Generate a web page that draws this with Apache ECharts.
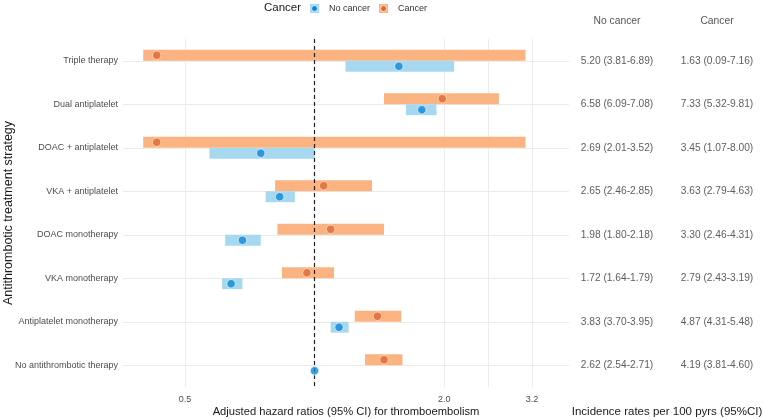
<!DOCTYPE html>
<html>
<head>
<meta charset="utf-8">
<script src="https://cdn.jsdelivr.net/npm/echarts@6/dist/echarts.min.js"></script>
<style>
  html, body { margin: 0; padding: 0; background: #fff; }
  #chart { width: 763px; height: 419px; }
</style>
</head>
<body>
<div id="chart"></div>
<script>
// categories, top to bottom
const categories = [
  'Triple therapy',
  'Dual antiplatelet',
  'DOAC + antiplatelet',
  'VKA + antiplatelet',
  'DOAC monotherapy',
  'VKA monotherapy',
  'Antiplatelet monotherapy',
  'No antithrombotic therapy'
];

// adjusted hazard ratios
const noCancerHR = [1.57, 1.775, 0.75, 0.83, 0.68, 0.64, 1.14, 1.0];
const noCancerLo = [1.18, 1.63, 0.57, 0.77, 0.62, 0.61, 1.09, 1.0];
const noCancerHi = [2.11, 1.92, 1.0, 0.90, 0.75, 0.68, 1.20, 1.0];
const cancerHR = [0.43, 1.98, 0.43, 1.05, 1.09, 0.96, 1.40, 1.45];
const cancerLo = [0.40, 1.45, 0.40, 0.81, 0.82, 0.84, 1.24, 1.31];
const cancerHi = [3.09, 2.68, 3.09, 1.36, 1.45, 1.11, 1.59, 1.60];

// incidence rates per 100 pyrs
const noCancerIR = ['5.20 (3.81-6.89)', '6.58 (6.09-7.08)', '2.69 (2.01-3.52)', '2.65 (2.46-2.85)',
  '1.98 (1.80-2.18)', '1.72 (1.64-1.79)', '3.83 (3.70-3.95)', '2.62 (2.54-2.71)'];
const cancerIR = ['1.63 (0.09-7.16)', '7.33 (5.32-9.81)', '3.45 (1.07-8.00)', '3.63 (2.79-4.63)',
  '3.30 (2.46-4.31)', '2.79 (2.43-3.19)', '4.87 (4.31-5.48)', '4.19 (3.81-4.60)'];

const xTickLabels = [0.5, 2.0, 3.2];
const xGridValues = [0.5, 1, 2, 2.53, 3.2];
const tableColumns = ['No cancer', 'Cancer'];

const FONT = '"Liberation Sans", Arial, sans-serif';
const BLUE = '#1088D8', BLUE_LIGHT = '#A6D8F0';
const ORANGE = '#E06830', ORANGE_LIGHT = '#FBB382';

function keyIcon(light, dark) {
  const svg = "<svg xmlns='http://www.w3.org/2000/svg' width='18' height='18'>" +
    "<rect width='18' height='18' fill='" + light + "'/>" +
    "<circle cx='9' cy='9' r='6' fill='" + dark + "' stroke='#fff' stroke-width='1.5'/></svg>";
  return 'image://data:image/svg+xml;charset=utf-8,' + encodeURIComponent(svg);
}

function rangeRenderer(shift) {
  return function (params, api) {
    const a = api.coord([api.value(0), api.value(2)]);
    const b = api.coord([api.value(1), api.value(2)]);
    const band = api.size([0, 1])[1];
    const h = band * 0.25;
    return {
      type: 'rect',
      shape: { x: a[0], y: a[1] + shift * band - h / 2, width: b[0] - a[0], height: h },
      style: { fill: api.visual('color') }
    };
  };
}

const chart = echarts.init(document.getElementById('chart'));

const option = {
  animation: false,
  textStyle: { fontFamily: FONT },
  title: {
    text: 'Cancer',
    left: 264,
    top: 2,
    padding: 0,
    textStyle: { fontSize: 11.5, fontWeight: 'normal', color: '#1a1a1a', fontFamily: FONT }
  },
  legend: {
    left: 310,
    top: 4,
    padding: 0,
    itemWidth: 9,
    itemHeight: 9,
    itemGap: 9,
    textStyle: { fontSize: 9, color: '#333', padding: [0, 0, 0, 5] },
    data: [
      { name: 'No cancer', icon: keyIcon(BLUE_LIGHT, BLUE) },
      { name: 'Cancer', icon: keyIcon(ORANGE_LIGHT, ORANGE) }
    ]
  },
  grid: [
    { left: 123, right: 194, top: 39, bottom: 32, outerBoundsMode: 'none', containLabel: false },
    { left: 567, right: -4, top: 39, bottom: 32, outerBoundsMode: 'none', containLabel: false }
  ],
  xAxis: [
    {
      type: 'log',
      gridIndex: 0,
      min: 0.359,
      max: 3.9,
      axisLine: { show: false },
      axisTick: { show: false, customValues: xGridValues },
      axisLabel: {
        customValues: xTickLabels,
        formatter: v => Number(v).toFixed(1),
        fontSize: 9,
        color: '#4d4d4d',
        margin: 8
      },
      splitLine: { show: true, lineStyle: { color: '#ebebeb', width: 1 } },
      name: 'Adjusted hazard ratios (95% CI) for thromboembolism',
      nameLocation: 'middle',
      nameGap: 19,
      nameMoveOverlap: false,
      nameTextStyle: { fontSize: 11.2, color: '#1a1a1a' }
    },
    {
      type: 'category',
      gridIndex: 1,
      position: 'top',
      data: tableColumns,
      axisLine: { show: false },
      axisTick: { show: false },
      axisLabel: { fontSize: 10.3, color: '#555', margin: 13 }
    },
    {
      type: 'category',
      gridIndex: 1,
      position: 'bottom',
      data: tableColumns,
      axisLine: { show: false },
      axisTick: { show: false },
      axisLabel: { show: false },
      name: 'Incidence rates per 100 pyrs (95%CI)',
      nameLocation: 'middle',
      nameGap: 19,
      nameMoveOverlap: false,
      nameTextStyle: { fontSize: 11.5, color: '#1a1a1a' }
    }
  ],
  yAxis: [
    {
      type: 'category',
      gridIndex: 0,
      inverse: true,
      data: categories,
      axisLine: { show: false },
      axisTick: { show: false },
      axisLabel: { fontSize: 9, color: '#4d4d4d', margin: 5, interval: 0 },
      splitLine: { show: true, interval: 0, alignWithLabel: true, lineStyle: { color: '#ebebeb', width: 1 } },
      name: 'Antithrombotic treatment strategy',
      nameLocation: 'middle',
      nameGap: 108,
      nameMoveOverlap: false,
      nameTextStyle: { fontSize: 12.5, color: '#1a1a1a' }
    },
    {
      type: 'category',
      gridIndex: 1,
      inverse: true,
      data: categories,
      show: false
    }
  ],
  series: [
    {
      name: 'Cancer',
      type: 'custom',
      xAxisIndex: 0,
      yAxisIndex: 0,
      renderItem: rangeRenderer(-0.126),
      itemStyle: { color: ORANGE_LIGHT },
      encode: { x: [0, 1], y: 2 },
      data: categories.map((c, i) => [cancerLo[i], cancerHi[i], i])
    },
    {
      name: 'No cancer',
      type: 'custom',
      xAxisIndex: 0,
      yAxisIndex: 0,
      renderItem: rangeRenderer(0.126),
      itemStyle: { color: BLUE_LIGHT },
      encode: { x: [0, 1], y: 2 },
      data: categories.map((c, i) => [noCancerLo[i], noCancerHi[i], i])
    },
    {
      name: 'Cancer',
      type: 'scatter',
      xAxisIndex: 0,
      yAxisIndex: 0,
      symbolSize: 8.5,
      symbolOffset: [0, -5.5],
      itemStyle: { color: ORANGE, borderColor: '#fde0cc', borderWidth: 1 },
      data: categories.map((c, i) => [cancerHR[i], i]),
      z: 4
    },
    {
      name: 'No cancer',
      type: 'scatter',
      xAxisIndex: 0,
      yAxisIndex: 0,
      symbolSize: 8.5,
      symbolOffset: [0, 5.5],
      itemStyle: { color: BLUE, borderColor: '#e0f2fb', borderWidth: 1 },
      data: categories.map((c, i) => [noCancerHR[i], i]),
      z: 4,
      markLine: {
        silent: true,
        symbol: 'none',
        label: { show: false },
        lineStyle: { color: '#222', type: [4, 3], width: 1.2 },
        data: [{ xAxis: 1 }],
        z: 3
      }
    },
    {
      name: 'table-no-cancer',
      type: 'scatter',
      xAxisIndex: 1,
      yAxisIndex: 1,
      symbolSize: 0,
      label: {
        show: true,
        position: 'inside',
        fontSize: 10.2,
        color: '#333',
        formatter: p => noCancerIR[p.dataIndex]
      },
      data: categories.map((c, i) => [tableColumns[0], i])
    },
    {
      name: 'table-cancer',
      type: 'scatter',
      xAxisIndex: 1,
      yAxisIndex: 1,
      symbolSize: 0,
      label: {
        show: true,
        position: 'inside',
        fontSize: 10.2,
        color: '#333',
        formatter: p => cancerIR[p.dataIndex]
      },
      data: categories.map((c, i) => [tableColumns[1], i])
    }
  ]
};

chart.setOption(option);
</script>
</body>
</html>
